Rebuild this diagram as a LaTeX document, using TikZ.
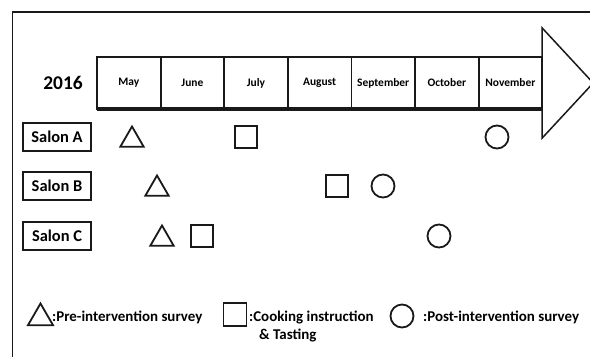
\documentclass[tikz,border=0pt]{standalone}
\usepackage{fontspec}
\setmainfont{Carlito}
\usetikzlibrary{positioning,shapes.geometric}
\definecolor{inkblack}{RGB}{25,25,25}

\tikzset{
  month/.style={draw=inkblack,line width=1.8bp,rectangle,minimum width=63.6bp,minimum height=52bp,
    inner sep=0pt,outer sep=0pt,font=\fontsize{11.5}{13}\selectfont\bfseries},
  salon/.style={draw=inkblack,line width=1.1bp,minimum width=68bp,minimum height=28bp,
    inner sep=0pt,font=\fontsize{16.5}{18}\selectfont\bfseries},
  tri/.style={draw=inkblack,line width=1.8bp,regular polygon,regular polygon sides=3,
    minimum size=27bp,inner sep=0pt,yshift=-3bp},
  sq/.style={draw=inkblack,line width=1.8bp,rectangle,minimum size=22bp,inner sep=0pt},
  circ/.style={draw=inkblack,line width=1.8bp,circle,minimum size=23bp,inner sep=0pt},
  legend/.style={inner sep=0pt,font=\fontsize{15}{17.5}\selectfont\bfseries}
}

\begin{document}
\begin{tikzpicture}[x=1bp,y=-1bp]
  \useasboundingbox (0,0) rectangle (590,356);
  % frame
  \draw[inkblack,line width=1.3bp] (12.5,362) -- (12.5,12) -- (600,12);
  % timeline
  \node[font=\fontsize{19.5}{21}\selectfont\bfseries] (year) at (63,83) {2016};
  \node[month] (may) at (128.8,83) {May};
  \node[month,right=0pt of may] (june) {June};
  \node[month,right=0pt of june] (july) {July};
  \node[month,right=0pt of july] (aug) {August};
  \node[month,right=0pt of aug] (sep) {September};
  \node[month,right=0pt of sep] (oct) {October};
  \node[month,right=0pt of oct] (nov) {November};
  \draw[inkblack,line width=2.6bp] (may.north west) -- (nov.north east);
  \draw[inkblack,line width=3.8bp] (may.south west) -- (nov.south east);
  \draw[inkblack,line width=1.5bp,line join=miter] (nov.east) ++(0,-55) -- ++(51,55) -- ++(-51,55) -- cycle;
  % salons
  \node[salon] (salonA) at (57,137) {Salon A};
  \node[salon] (salonB) at (57,186) {Salon B};
  \node[salon] (salonC) at (57,236) {Salon C};
  % events
  \node[tri] (triA) at (132,137) {};
  \node[sq] (sqA) at (246,137) {};
  \node[circ] (circA) at (497,137) {};
  \node[tri] (triB) at (157,186) {};
  \node[sq] (sqB) at (337,186) {};
  \node[circ] (circB) at (383,186) {};
  \node[tri] (triC) at (162,236) {};
  \node[sq] (sqC) at (202,236) {};
  \node[circ] (circC) at (439,236) {};
  % legend
  \node[tri,minimum size=29bp] (legTri) at (40.5,315) {};
  \node[legend,anchor=base west] (legPre) at (52,321.7) {:Pre-intervention survey};
  \node[sq,minimum size=23bp] (legSq) at (235,314.5) {};
  \node[legend,anchor=base west,align=left] (legCook) at (249,339.2) {:Cooking instruction\\\hspace{10bp}\& Tasting};
  \node[circ,minimum size=23bp] (legCirc) at (402,316) {};
  \node[legend,anchor=base west] (legPost) at (423,321.7) {:Post-intervention survey};
\end{tikzpicture}
\end{document}
